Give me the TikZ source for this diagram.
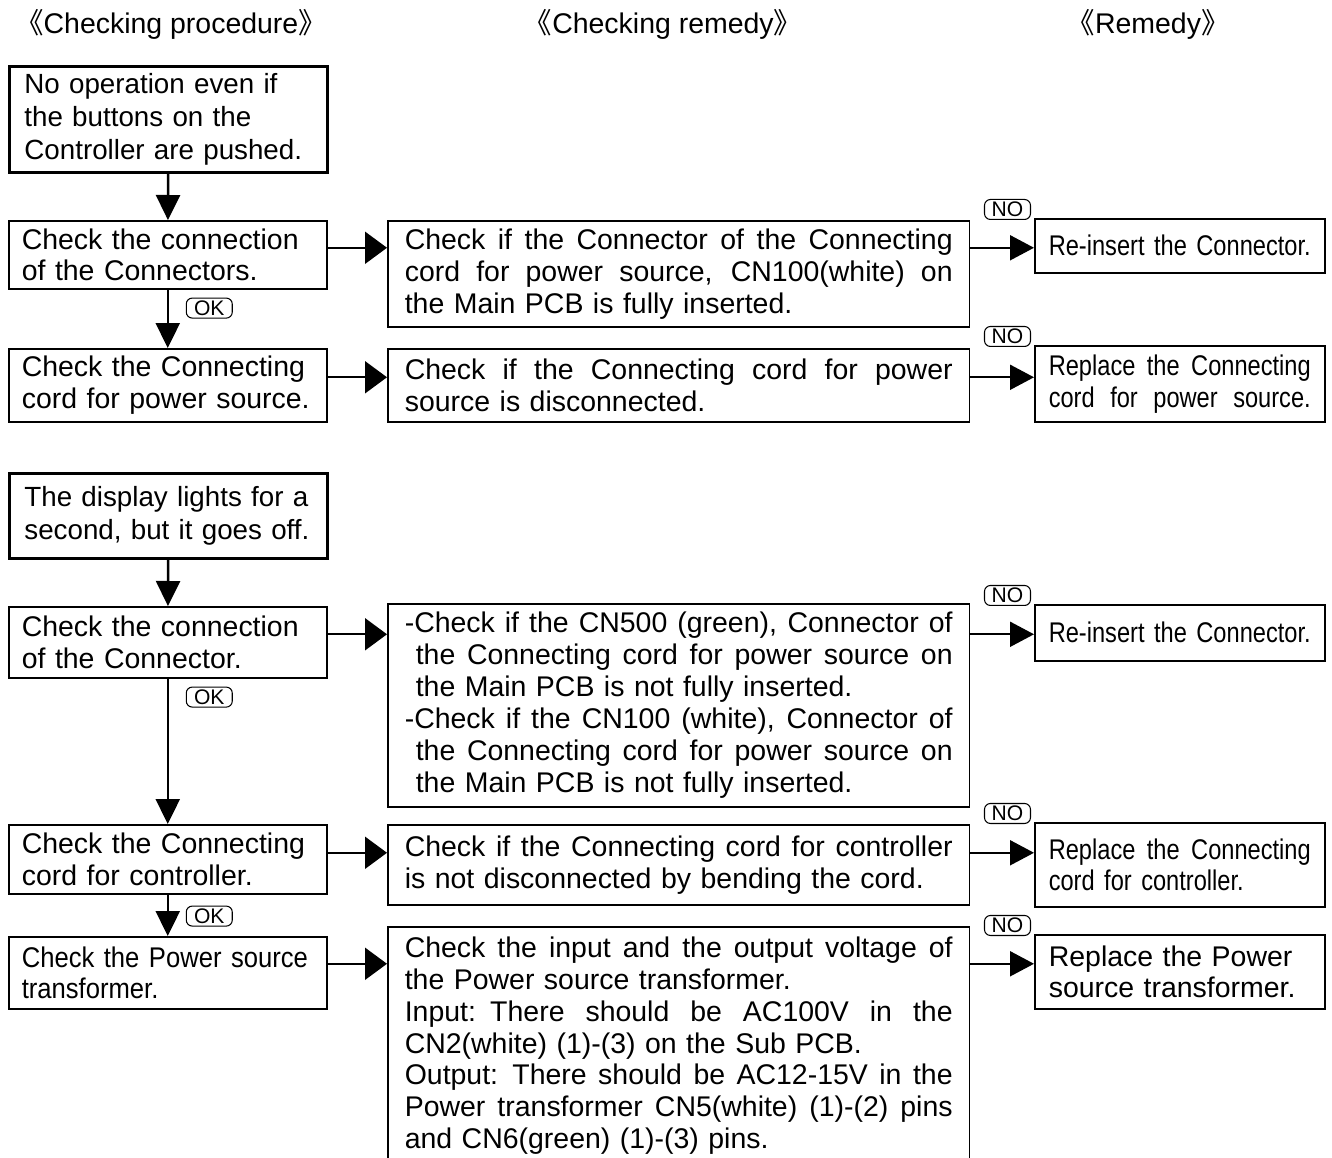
\documentclass[tikz,border=0pt]{standalone}
\usepackage{fontspec}
\setmainfont{Liberation Sans}
\newfontfamily\narrowfont[FakeStretch=0.83]{Liberation Sans}
\newfontfamily\semifont[FakeStretch=0.9]{Liberation Sans}
\newfontfamily\cjk[RawFeature=+halt]{Noto Sans CJK SC}
\usetikzlibrary{arrows.meta,positioning}

\newcommand{\mainsize}{\fontsize{16.2}{18.14}\selectfont}
\newcommand{\startsize}{\fontsize{15.8}{18.7}\selectfont}
\newcommand{\tagsize}{\fontsize{12}{13}\selectfont}
% one justified line, optional indent
\newcommand{\jl}[2][0pt]{\hspace*{#1}\makebox[\dimexpr\hsize-#1\relax][s]{\spaceskip=\fontdimen2\font plus 1fil\relax #2}}

\tikzset{
  procbox/.style={draw, line width=0.9pt, anchor=north west, inner xsep=0.26cm, inner ysep=0pt, align=left, font=\mainsize, text width=5.84cm},
  startbox/.style={procbox, line width=1.6pt, inner xsep=0.3cm, text width=5.76cm, font=\startsize},
  chkbox/.style={procbox, inner xsep=0.34cm, text width=10.96cm},
  fixbox/.style={procbox, inner xsep=0.28cm, text width=5.24cm},
  oktag/.style={draw, line width=0.6pt, rounded corners=0.12cm, inner sep=0pt, minimum width=0.92cm, minimum height=0.4cm, font=\tagsize},
  colhead/.style={font=\mainsize},
  downarr/.style={-{Triangle[length=0.5cm,width=0.48cm]}, line width=1.4pt},
  goarr/.style={-{Triangle[length=0.44cm,width=0.64cm]}, line width=1.1pt},
  fixarr/.style={-{Triangle[length=0.48cm,width=0.5cm]}, line width=1.1pt}
}

\begin{document}
\begin{tikzpicture}[x=0.02cm, y=-0.02cm]
\useasboundingbox (0,0) rectangle (1332,1158);

% column heads
\node[colhead] (h1) at (171,24) {{\cjk 《}Checking procedure{\cjk 》}};
\node[colhead] (h2) at (663,24) {{\cjk 《}Checking remedy{\cjk 》}};
\node[colhead] (h3) at (1148,24) {{\cjk 《}Remedy{\cjk 》}};

% checking procedure
\node[startbox, minimum height=2.12cm] (nop) at (8,65) {No operation even if\\the buttons on the\\Controller are pushed.};
\node[procbox, minimum height=1.36cm] (conn1) at (8,220) {Check the connection\\of the Connectors.};
\node[procbox, minimum height=1.46cm] (cord1) at (8,348) {Check the Connecting\\cord for power source.};

\node[startbox, minimum height=1.7cm] (disp) at (8,472) {The display lights for a\\second, but it goes off.};
\node[procbox, minimum height=1.42cm] (conn2) at (8,606) {Check the connection\\of the Connector.};
\node[procbox, minimum height=1.38cm] (cord2) at (8,824) {Check the Connecting\\cord for controller.};
\node[procbox, minimum height=1.44cm, font=\mainsize\semifont] (trans) at (8,936) {Check the Power source\\transformer.};

% checking remedy
\node[chkbox, minimum height=2.12cm] (chk1) at (387,220) {\jl{Check if the Connector of the Connecting}\\\jl{cord for power source, CN100(white) on}\\the Main PCB is fully inserted.};
\node[chkbox, minimum height=1.46cm] (chk2) at (387,348) {\jl{Check if the Connecting cord for power}\\source is disconnected.};
\node[chkbox, minimum height=4.06cm] (chk3) at (387,603) {\jl{-Check if the CN500 (green), Connector of}\\
  \jl[0.22cm]{the Connecting cord for power source on}\\
  \hspace*{0.22cm}the Main PCB is not fully inserted.\\
  \jl{-Check if the CN100 (white), Connector of}\\
  \jl[0.22cm]{the Connecting cord for power source on}\\
  \hspace*{0.22cm}the Main PCB is not fully inserted.};
\node[chkbox, minimum height=1.6cm] (chk4) at (387,824) {\jl{Check if the Connecting cord for controller}\\is not disconnected by bending the cord.};
\node[chkbox, inner ysep=0.2cm] (chk5) at (387,926) {\jl{Check the input and the output voltage of}\\the Power source transformer.\\
  \jl{Input: There should be AC100V in the}\\CN2(white) (1)-(3) on the Sub PCB.\\
  \jl{Output: There should be AC12-15V in the}\\\jl{Power transformer CN5(white) (1)-(2) pins}\\and CN6(green) (1)-(3) pins.};

% remedy
\node[fixbox, minimum height=1.08cm, font=\mainsize\narrowfont] (fix1) at (1034,218) {Re-insert the Connector.};
\node[fixbox, minimum height=1.52cm, font=\mainsize\narrowfont] (fix2) at (1034,345) {\jl{Replace the Connecting}\\\jl{cord for power source.}};
\node[fixbox, minimum height=1.12cm, font=\mainsize\narrowfont] (fix3) at (1034,604) {Re-insert the Connector.};
\node[fixbox, minimum height=1.68cm, font=\mainsize\narrowfont] (fix4) at (1034,822) {\jl{Replace the Connecting}\\cord for controller.};
\node[fixbox, minimum height=1.48cm] (fix5) at (1034,934) {Replace the Power\\source transformer.};

% down the procedure
\draw[downarr] (nop) -- (conn1);
\draw[downarr] (conn1) -- (cord1);
\draw[downarr] (disp) -- (conn2);
\draw[downarr] (conn2) -- (cord2);
\draw[downarr] (cord2) -- (trans);

\node[oktag, below right=0.16cm and 0.36cm of conn1.south] (ok1) {OK};
\node[oktag, below right=0.16cm and 0.36cm of conn2.south] (ok2) {OK};
\node[oktag, below right=0.22cm and 0.36cm of cord2.south] (ok3) {OK};

% across
\coordinate (r1) at ([yshift=0.14cm]conn1.east);
\coordinate (r2) at ([yshift=0.16cm]cord1.east);
\coordinate (r3) at ([yshift=0.16cm]conn2.east);
\coordinate (r4) at ([yshift=0.13cm]cord2.east);
\coordinate (r5) at ([yshift=0.18cm]trans.east);

\draw[goarr] (r1) -- (r1 -| chk1.west);
\draw[goarr] (r2) -- (r2 -| chk2.west);
\draw[goarr] (r3) -- (r3 -| chk3.west);
\draw[goarr] (r4) -- (r4 -| chk4.west);
\draw[goarr] (r5) -- (r5 -| chk5.west);

\draw[fixarr] (r1 -| chk1.east) -- (r1 -| fix1.west);
\draw[fixarr] (r2 -| chk2.east) -- (r2 -| fix2.west);
\draw[fixarr] (r3 -| chk3.east) -- (r3 -| fix3.west);
\draw[fixarr] (r4 -| chk4.east) -- (r4 -| fix4.west);
\draw[fixarr] (r5 -| chk5.east) -- (r5 -| fix5.west);

\node[oktag, above left=-0.04cm and 0.06cm of fix1.north west] (no1) {NO};
\node[oktag, above left=-0.04cm and 0.06cm of fix2.north west] (no2) {NO};
\node[oktag, above left=-0.04cm and 0.06cm of fix3.north west] (no3) {NO};
\node[oktag, above left=-0.04cm and 0.06cm of fix4.north west] (no4) {NO};
\node[oktag, above left=-0.04cm and 0.06cm of fix5.north west] (no5) {NO};

\end{tikzpicture}
\end{document}
